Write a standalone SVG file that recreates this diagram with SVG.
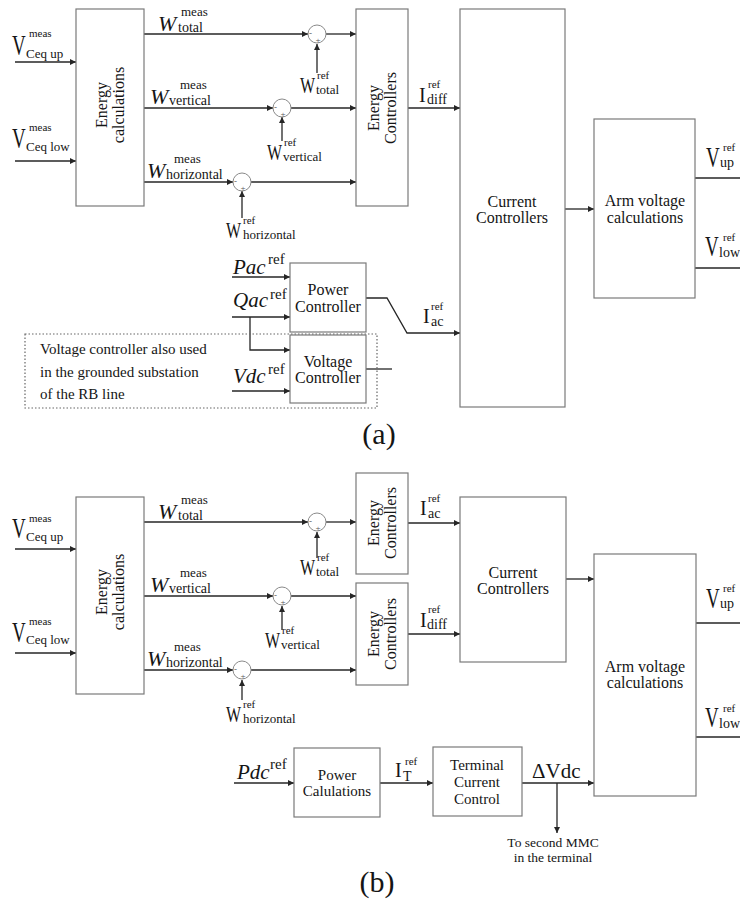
<svg xmlns="http://www.w3.org/2000/svg" width="740" height="901" viewBox="0 0 740 901">
<style>
text{font-family:"Liberation Serif","Times New Roman",serif;fill:#151515}
.box{fill:#fff;stroke:#7a7a7a;stroke-width:1.2}
.ln{fill:none;stroke:#262626;stroke-width:1.3}
.arr{marker-end:url(#ah)}
.sum{fill:#fff;stroke:#8a8a8a;stroke-width:1}
.dot{fill:none;stroke:#666;stroke-width:1.2;stroke-dasharray:1.5 2}
.t16{font-size:16px}
.t15{font-size:15px}
.c{text-anchor:middle}
.Wi{font-size:22px;font-style:italic}
.Pi{font-size:21px;font-style:italic}
.big{font-size:19px}
.Wr{font-size:16px}
.sup{font-size:11px}
.sub{font-size:13px}
.msup{font-size:13px}
.msub{font-size:14px}
.isub{font-size:14px}
.sg{font-size:9px;fill:#555}
.cap{font-size:30px}
</style>
<defs>
<marker id="ah" viewBox="0 0 10 10" refX="10" refY="5" markerWidth="8" markerHeight="6" orient="auto" markerUnits="userSpaceOnUse"><path d="M0,0 L10,5 L0,10 z" fill="#262626"/></marker>
</defs>

<g id="connectors">
<!-- (a) -->
<path class="ln arr" d="M15,62 H76"/>
<path class="ln arr" d="M15,161 H76"/>
<path class="ln arr" d="M144,34 H308"/>
<path class="ln arr" d="M326,34 H356"/>
<path class="ln arr" d="M317,73 V44"/>
<path class="ln arr" d="M144,108 H273"/>
<path class="ln arr" d="M291,108 H356"/>
<path class="ln arr" d="M282,141 V117"/>
<path class="ln arr" d="M144,182 H233"/>
<path class="ln arr" d="M251,182 H356"/>
<path class="ln arr" d="M242,218 V191"/>
<path class="ln arr" d="M408,108 H460"/>
<path class="ln arr" d="M565,209 H594"/>
<path class="ln" d="M695,178 H740"/>
<path class="ln" d="M695,268 H740"/>
<path class="ln arr" d="M232,277 H290"/>
<path class="ln arr" d="M232,317 H290"/>
<path class="ln arr" d="M250,317 V350 H290"/>
<path class="ln arr" d="M232,391 H290"/>
<path class="ln arr" d="M366,298 H387 L407,333 H460"/>
<path class="ln" d="M366,369 H392"/>
<!-- (b) -->
<path class="ln arr" d="M15,549 H76"/>
<path class="ln arr" d="M15,653 H76"/>
<path class="ln arr" d="M144,522 H308"/>
<path class="ln arr" d="M326,522 H356"/>
<path class="ln arr" d="M317,558 V532"/>
<path class="ln arr" d="M144,596 H273"/>
<path class="ln arr" d="M291,596 H356"/>
<path class="ln arr" d="M282,630 V606"/>
<path class="ln arr" d="M144,670 H233"/>
<path class="ln arr" d="M251,670 H356"/>
<path class="ln arr" d="M242,700 V680"/>
<path class="ln arr" d="M408,523 H460"/>
<path class="ln arr" d="M408,634 H460"/>
<path class="ln arr" d="M566,579 H594"/>
<path class="ln" d="M696,623 H740"/>
<path class="ln" d="M696,737 H740"/>
<path class="ln arr" d="M234,783 H294"/>
<path class="ln arr" d="M380,783 H433"/>
<path class="ln arr" d="M522,783 H594"/>
<path class="ln arr" d="M557,783 V833"/>
</g>

<!-- ================= (a) ================= -->
<g id="a-energy-calc">
<rect class="box" x="76" y="9" width="68" height="197"/>
<text class="t16 c" transform="translate(107,105) rotate(-90)"><tspan x="0" y="0">Energy</tspan><tspan x="0" dy="17">calculations</tspan></text>
</g>
<g id="a-energy-ctrl">
<rect class="box" x="356" y="9" width="52" height="197"/>
<text class="t16 c" transform="translate(379,108) rotate(-90)"><tspan x="0" y="0">Energy</tspan><tspan x="0" dy="17">Controllers</tspan></text>
</g>
<g id="a-current-ctrl">
<rect class="box" x="460" y="9" width="105" height="398"/>
<text class="t16 c" x="512" y="207">Current</text>
<text class="t16 c" x="512" y="223">Controllers</text>
</g>
<g id="a-arm-voltage">
<rect class="box" x="594" y="119" width="101" height="179"/>
<text class="t16 c" x="645" y="206">Arm voltage</text>
<text class="t16 c" x="645" y="223">calculations</text>
</g>
<g id="a-power-ctrl">
<rect class="box" x="290" y="263" width="76" height="69"/>
<text class="t16 c" x="328" y="295">Power</text>
<text class="t16 c" x="328" y="312">Controller</text>
</g>
<g id="a-voltage-ctrl">
<rect class="box" x="290" y="335" width="76" height="68"/>
<text class="t16 c" x="328" y="367">Voltage</text>
<text class="t16 c" x="328" y="383">Controller</text>
</g>
<g id="a-note">
<rect class="dot" x="25" y="334" width="352" height="74"/>
<text class="t15" x="40" y="354">Voltage controller also used</text>
<text class="t15" x="40" y="377">in the grounded substation</text>
<text class="t15" x="40" y="399">of the RB line</text>
</g>
<g id="a-sums">
<circle class="sum" cx="317" cy="34" r="9"/>
<text class="sg" x="309" y="36">-</text><text class="sg c" x="318" y="43">+</text>
<circle class="sum" cx="282" cy="108" r="9"/>
<text class="sg" x="274" y="110">-</text><text class="sg c" x="283" y="117">+</text>
<circle class="sum" cx="242" cy="182" r="9"/>
<text class="sg" x="234" y="184">-</text><text class="sg c" x="243" y="191">+</text>
</g>
<g id="a-labels">
<text class="big" transform="translate(12,55) scale(1,1.6)">V</text>
<text class="sup" x="29" y="37">meas</text>
<text class="sub" x="26" y="58">Ceq up</text>
<text class="big" transform="translate(12,148) scale(1,1.6)">V</text>
<text class="sup" x="29" y="131">meas</text>
<text class="sub" x="26" y="151">Ceq low</text>

<text class="Wi" x="158" y="31">W</text>
<text class="msup" x="181" y="16">meas</text>
<text class="msub" x="178" y="32">total</text>
<text class="Wi" x="150" y="104">W</text>
<text class="msup" x="180" y="89">meas</text>
<text class="msub" x="169" y="105">vertical</text>
<text class="Wi" x="147" y="178">W</text>
<text class="msup" x="174" y="163">meas</text>
<text class="msub" x="166" y="179">horizontal</text>

<text class="Wr" transform="translate(300,93) scale(1,1.5)">W</text>
<text class="sup" x="317" y="79">ref</text>
<text class="sub" x="316" y="94">total</text>
<text class="Wr" transform="translate(267,160) scale(1,1.5)">W</text>
<text class="sup" x="284" y="146">ref</text>
<text class="sub" x="283" y="161">vertical</text>
<text class="Wr" transform="translate(226,238) scale(1,1.5)">W</text>
<text class="sup" x="243" y="224">ref</text>
<text class="sub" x="243" y="239">horizontal</text>

<text style="font-size:20px" x="419" y="102">I</text>
<text class="sup" x="428" y="88">ref</text>
<text class="isub" x="427" y="104">diff</text>
<text style="font-size:20px" x="423" y="323">I</text>
<text class="sup" x="431" y="310">ref</text>
<text class="isub" x="431" y="326">ac</text>

<text class="big" transform="translate(706,167) scale(1,1.5)">V</text>
<text class="sup" x="723" y="151">ref</text>
<text class="isub" x="720" y="167">up</text>
<text class="big" transform="translate(705,256) scale(1,1.5)">V</text>
<text class="sup" x="723" y="241">ref</text>
<text class="isub" x="719" y="257">low</text>

<text class="Pi" x="233" y="274">Pac</text>
<text class="t15" x="268" y="264">ref</text>
<text class="Pi" x="233" y="307">Qac</text>
<text class="t15" x="270" y="299">ref</text>
<text class="Pi" x="233" y="383">Vdc</text>
<text class="t15" x="268" y="374">ref</text>

<text class="cap c" x="379" y="444">(a)</text>
</g>

<!-- ================= (b) ================= -->
<g id="b-energy-calc">
<rect class="box" x="76" y="497" width="68" height="197"/>
<text class="t16 c" transform="translate(107,592) rotate(-90)"><tspan x="0" y="0">Energy</tspan><tspan x="0" dy="17">calculations</tspan></text>
</g>
<g id="b-energy-ctrl-1">
<rect class="box" x="356" y="473" width="52" height="101"/>
<text class="t16 c" transform="translate(379,523) rotate(-90)"><tspan x="0" y="0">Energy</tspan><tspan x="0" dy="17">Controllers</tspan></text>
</g>
<g id="b-energy-ctrl-2">
<rect class="box" x="356" y="583" width="52" height="102"/>
<text class="t16 c" transform="translate(379,634) rotate(-90)"><tspan x="0" y="0">Energy</tspan><tspan x="0" dy="17">Controllers</tspan></text>
</g>
<g id="b-current-ctrl">
<rect class="box" x="460" y="497" width="106" height="165"/>
<text class="t16 c" x="513" y="578">Current</text>
<text class="t16 c" x="513" y="594">Controllers</text>
</g>
<g id="b-arm-voltage">
<rect class="box" x="594" y="554" width="102" height="242"/>
<text class="t16 c" x="645" y="672">Arm voltage</text>
<text class="t16 c" x="645" y="688">calculations</text>
</g>
<g id="b-power-calc">
<rect class="box" x="294" y="748" width="86" height="69"/>
<text class="t15 c" x="337" y="780">Power</text>
<text class="t15 c" x="337" y="796">Calulations</text>
</g>
<g id="b-terminal-ctrl">
<rect class="box" x="433" y="747" width="89" height="69"/>
<text class="t15 c" x="477" y="770">Terminal</text>
<text class="t15 c" x="477" y="787">Current</text>
<text class="t15 c" x="477" y="804">Control</text>
</g>
<g id="b-sums">
<circle class="sum" cx="317" cy="522" r="9"/>
<text class="sg" x="309" y="524">-</text><text class="sg c" x="318" y="531">+</text>
<circle class="sum" cx="282" cy="596" r="9"/>
<text class="sg" x="274" y="598">-</text><text class="sg c" x="283" y="605">+</text>
<circle class="sum" cx="242" cy="670" r="9"/>
<text class="sg" x="234" y="672">-</text><text class="sg c" x="243" y="679">+</text>
</g>
<g id="b-labels">
<text class="big" transform="translate(12,538) scale(1,1.6)">V</text>
<text class="sup" x="29" y="522">meas</text>
<text class="sub" x="26" y="541">Ceq up</text>
<text class="big" transform="translate(12,642) scale(1,1.6)">V</text>
<text class="sup" x="29" y="625">meas</text>
<text class="sub" x="26" y="644">Ceq low</text>

<text class="Wi" x="158" y="519">W</text>
<text class="msup" x="181" y="504">meas</text>
<text class="msub" x="178" y="520">total</text>
<text class="Wi" x="150" y="592">W</text>
<text class="msup" x="180" y="577">meas</text>
<text class="msub" x="169" y="593">vertical</text>
<text class="Wi" x="147" y="666">W</text>
<text class="msup" x="174" y="651">meas</text>
<text class="msub" x="166" y="667">horizontal</text>

<text class="Wr" transform="translate(300,575) scale(1,1.5)">W</text>
<text class="sup" x="317" y="561">ref</text>
<text class="sub" x="316" y="576">total</text>
<text class="Wr" transform="translate(265,648) scale(1,1.5)">W</text>
<text class="sup" x="282" y="634">ref</text>
<text class="sub" x="281" y="649">vertical</text>
<text class="Wr" transform="translate(226,722) scale(1,1.5)">W</text>
<text class="sup" x="243" y="708">ref</text>
<text class="sub" x="243" y="723">horizontal</text>

<text style="font-size:20px" x="420" y="515">I</text>
<text class="sup" x="428" y="502">ref</text>
<text class="isub" x="428" y="518">ac</text>
<text style="font-size:20px" x="420" y="627">I</text>
<text class="sup" x="428" y="613">ref</text>
<text class="isub" x="427" y="629">diff</text>
<text style="font-size:20px" x="395" y="777">I</text>
<text class="sup" x="405" y="765">ref</text>
<text class="isub" x="403" y="781">T</text>

<text class="big" transform="translate(706,608) scale(1,1.5)">V</text>
<text class="sup" x="723" y="592">ref</text>
<text class="isub" x="720" y="608">up</text>
<text class="big" transform="translate(705,727) scale(1,1.5)">V</text>
<text class="sup" x="723" y="712">ref</text>
<text class="isub" x="719" y="728">low</text>

<text class="Pi" x="237" y="779">Pdc</text>
<text class="t15" x="270" y="769">ref</text>
<text style="font-size:21px" x="532" y="778">ΔVdc</text>
<text style="font-size:13.5px" class="c" x="553" y="847">To second MMC</text>
<text style="font-size:13.5px" class="c" x="553" y="862">in the terminal</text>

<text class="cap c" x="377" y="892">(b)</text>
</g>
</svg>
